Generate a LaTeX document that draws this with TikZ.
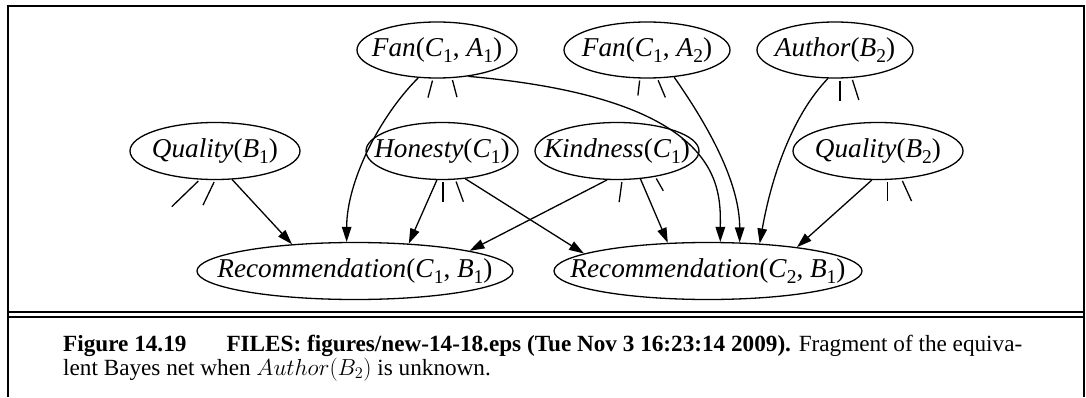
\RequirePackage{fix-cm}
\documentclass[tikz,border=0pt]{standalone}
\usepackage[no-math]{fontspec}
\setmainfont{Liberation Serif}
\usetikzlibrary{arrows.meta,shapes.geometric}
\newcommand{\subs}[1]{\raisebox{-0.25em}{\fontsize{19.5}{19.5}\selectfont #1}}
\newcommand{\lab}[1]{\makebox[0pt]{#1}}
\begin{document}
\begin{tikzpicture}[x=1pt,y=1pt,
  var/.style={ellipse, draw, line width=1.3pt, inner sep=0pt, minimum height=56pt, font=\fontsize{27.2}{30}\selectfont},
  edge/.style={line width=1.3pt, -{Triangle[length=15pt,width=9.5pt]}},
  stub/.style={line width=1.3pt, shorten <=2pt},
  frameline/.style={line width=2pt},
  rule/.style={line width=1.7pt},
  captext/.style={anchor=base west, inner sep=0pt, font=\fontsize{23.2}{26}\selectfont}]
\useasboundingbox (0,0) rectangle (1086,397);
% frame
\draw[frameline] (8.3,0) -- (8.3,391.3) -- (1084,391.3) -- (1084,0);
\draw[rule] (8.3,85.3) -- (1084,85.3);
\draw[rule] (8.3,80.3) -- (1084,80.3);
% nodes
\node[var, minimum width=160pt] (fanA1) at (437,347) {\lab{\textit{Fan}(\textit{C}\subs{1}, \textit{A}\subs{1})}};
\node[var, minimum width=166pt] (fanA2) at (647,347) {\lab{\textit{Fan}(\textit{C}\subs{1}, \textit{A}\subs{2})}};
\node[var, minimum width=156pt] (author) at (835,347) {\lab{\textit{Author}(\textit{B}\subs{2})}};
\node[var, minimum width=170pt, minimum height=57pt] (qual1) at (215,246) {\lab{\textit{Quality}(\textit{B}\subs{1})}};
\node[var, minimum width=152pt, minimum height=57pt] (hon) at (442,246) {\lab{\textit{Honesty}(\textit{C}\subs{1})}};
\node[var, minimum width=164pt, minimum height=57pt] (kind) at (617,246) {\lab{\textit{Kindness}(\textit{C}\subs{1})}};
\node[var, minimum width=170pt, minimum height=57pt] (qual2) at (878,246) {\lab{\textit{Quality}(\textit{B}\subs{2})}};
\node[var, minimum width=316pt, minimum height=57pt] (rec1) at (355,126) {\lab{\textit{Recommendation}(\textit{C}\subs{1}, \textit{B}\subs{1})}};
\node[var, minimum width=308pt, minimum height=57pt] (rec2) at (708,126) {\lab{\textit{Recommendation}(\textit{C}\subs{2}, \textit{B}\subs{1})}};
% arrows
\draw[edge] (fanA1.236) .. controls +(225:55) and +(90:60) .. (rec1.106);
\draw[edge] (fanA1.-40) .. controls +(-5:260) and +(90:52) .. (rec2.67);
\draw[edge] (fanA2.-45) .. controls +(-55:60) and +(90:60) .. (rec2.42);
\draw[edge] (author.-104) .. controls +(226:50) and +(80:70) .. (rec2.28);
\draw[edge] (qual1.-59) -- (rec1.157);
\draw[edge] (hon.-100) -- (rec1.27);
\draw[edge] (hon.-50) -- (rec2.172);
\draw[edge] (kind.-109) -- (rec1.10);
\draw[edge] (kind.-50) -- (rec2.145);
\draw[edge] (qual2.-102) -- (rec2.15);
% stubs
\draw[stub] (fanA1.-98) -- ++(-5,-19);
\draw[stub] (fanA1.-62) -- ++(5,-19);
\draw[stub] (fanA2.-104) -- ++(-2,-17);
\draw[stub] (fanA2.-70) -- ++(8,-19);
\draw[stub] (author.-80) -- ++(0,-22);
\draw[stub] (author.-59) -- ++(7,-22);
\draw[stub] (qual1.-118) -- ++(-28,-27);
\draw[stub] (qual1.-90) -- ++(-12,-25);
\draw[stub] (hon.-88) -- ++(0,-22);
\draw[stub] (hon.-65) -- ++(8,-22);
\draw[stub] (kind.-80) -- ++(-3,-22);
\draw[stub] (kind.-34) -- ++(8,-14);
\draw[stub] (qual2.-72) -- ++(0,-21);
\draw[stub] (qual2.-50) -- ++(10,-22);
% caption
\node[captext] (cap1) at (63,46) {\textbf{Figure 14.19}\hspace{40pt}\textbf{FILES: figures/new-14-18.eps (Tue Nov 3 16:23:14 2009).} Fragment of the equiva-};
\node[captext] (cap2) at (63,22) {lent Bayes net when $Author(B_2)$ is unknown.};
\end{tikzpicture}
\end{document}
